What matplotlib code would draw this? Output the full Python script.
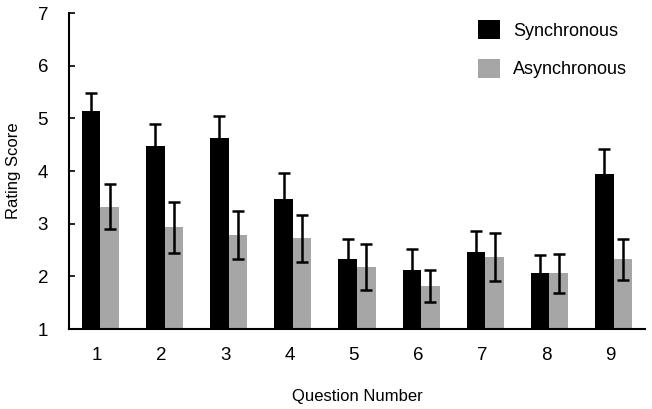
import matplotlib
matplotlib.use("Agg")
import matplotlib.pyplot as plt
import numpy as np

plt.rcParams['font.family'] = ['Liberation Sans', 'DejaVu Sans']

questions = ["1", "2", "3", "4", "5", "6", "7", "8", "9"]
sync_mean = [5.13, 4.48, 4.63, 3.47, 2.32, 2.12, 2.47, 2.06, 3.94]
sync_err = [0.36, 0.42, 0.41, 0.49, 0.39, 0.39, 0.40, 0.35, 0.48]
async_mean = [3.32, 2.93, 2.78, 2.72, 2.18, 1.82, 2.37, 2.06, 2.32]
async_err = [0.43, 0.49, 0.46, 0.44, 0.44, 0.30, 0.45, 0.37, 0.39]

fig = plt.figure(figsize=(6.52, 4.09), dpi=100)
ax = fig.add_axes([69/652, 1 - 329/409, 576/652, 316/409])

x = np.arange(1, len(questions) + 1)
w = 0.29
ax.bar(x - w/2, sync_mean, w, color='black', label='Synchronous')
ax.bar(x + w/2, async_mean, w, color='#a6a6a6', label='Asynchronous')
ax.errorbar(x - w/2, sync_mean, yerr=sync_err, fmt='none', ecolor='black',
            elinewidth=1.8, capsize=4.5, capthick=1.8)
ax.errorbar(x + w/2, async_mean, yerr=async_err, fmt='none', ecolor='black',
            elinewidth=1.8, capsize=4.5, capthick=1.8)

ax.set_xlim(0.51, 9.49)
ax.set_ylim(1, 7)
ax.set_yticks([1, 2, 3, 4, 5, 6, 7])
ax.set_xticks(x - 0.05)
ax.set_xticklabels(questions)
ax.spines['top'].set_visible(False)
ax.spines['right'].set_visible(False)
ax.spines['left'].set_linewidth(1.5)
ax.spines['bottom'].set_linewidth(1.5)
ax.tick_params(axis='y', direction='in', length=4, width=1.2, pad=15, labelsize=13.5)
ax.tick_params(axis='x', length=0, pad=13, labelsize=13.5)
ax.set_xlabel('Question Number', fontsize=12, labelpad=18)
ax.set_ylabel('Rating Score', fontsize=12, labelpad=12)

leg = fig.legend(*ax.get_legend_handles_labels(), loc='upper left',
                 bbox_to_anchor=(478/652, 1 - 20/409), frameon=False,
                 fontsize=13, handlelength=1.2, handleheight=1.25,
                 labelspacing=1.05, handletextpad=0.75, borderpad=0,
                 borderaxespad=0)

fig.savefig('out.png', dpi=100)
